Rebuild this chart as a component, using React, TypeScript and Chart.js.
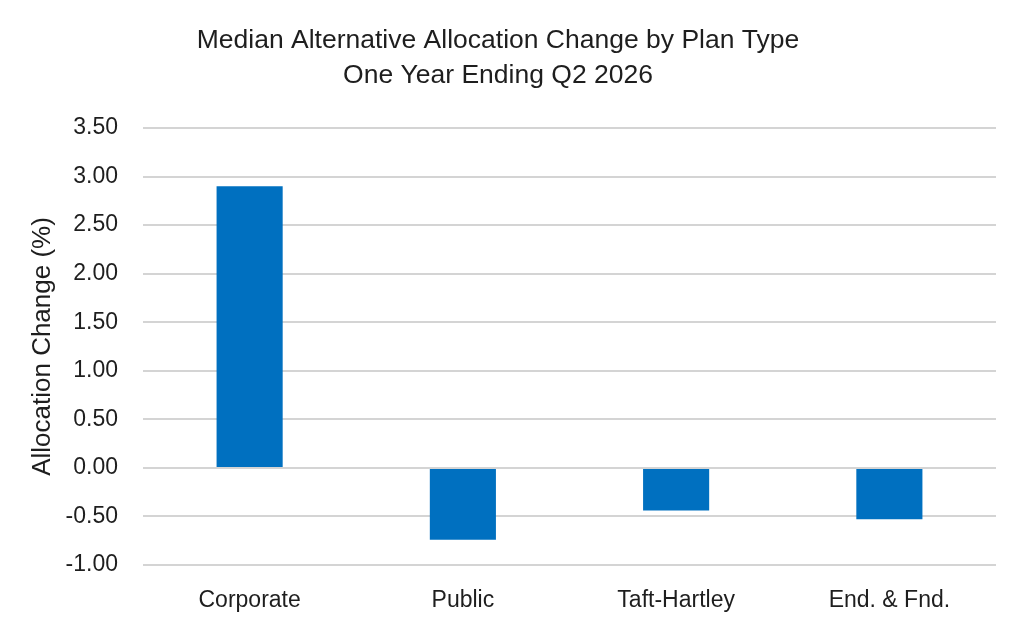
import React, { useEffect, useRef } from "react";
import { Chart, registerables } from "chart.js";

Chart.register(...registerables);

const categories: string[] = ["Corporate", "Public", "Taft-Hartley", "End. & Fnd."];
const allocationChange: number[] = [2.9, -0.74, -0.44, -0.53];
const titleLines: string[] = ["Median Alternative Allocation Change by Plan Type", "One Year Ending Q2 2026"];
const yAxisTitle = "Allocation Change (%)";
const yMin = -1;
const yMax = 3.5;
const yStep = 0.5;

const FONT = "'Liberation Sans', Arial, sans-serif";
const TEXT = "#1e1e1e";

export default function App() {
  const ref = useRef<HTMLCanvasElement | null>(null);

  useEffect(() => {
    document.body.style.margin = "0";
    const canvas = ref.current;
    if (!canvas) return;
    const chart = new Chart(canvas, {
      type: "bar",
      data: {
        labels: categories,
        datasets: [
          {
            data: allocationChange,
            backgroundColor: "#0070C0",
            borderWidth: 0,
            categoryPercentage: 1,
            barPercentage: 0.31,
          },
        ],
      },
      options: {
        responsive: false,
        animation: false,
        devicePixelRatio: 1,
        layout: { padding: { left: 0, right: 28, top: 0, bottom: 0 } },
        plugins: {
          legend: { display: false },
          tooltip: { enabled: false },
          title: {
            display: true,
            text: titleLines,
            color: TEXT,
            font: { family: FONT, size: 26.5, weight: "normal", lineHeight: 1.32 },
            padding: { top: 23, bottom: 35 },
          },
        },
        scales: {
          x: {
            grid: { display: false, drawTicks: false },
            border: { display: false },
            ticks: {
              color: TEXT,
              font: { family: FONT, size: 23 },
              padding: 22,
              maxRotation: 0,
            },
            afterFit: (scale: any) => {
              scale.height = 74;
            },
          },
          y: {
            min: yMin,
            max: yMax,
            border: { display: false },
            grid: { color: "#d4d4d4", lineWidth: 2, drawTicks: false },
            ticks: {
              stepSize: yStep,
              color: TEXT,
              font: { family: FONT, size: 23 },
              padding: 25,
              callback: (v: any) => Number(v).toFixed(2),
            },
            title: {
              display: true,
              text: yAxisTitle,
              color: TEXT,
              font: { family: FONT, size: 26 },
              padding: { top: 27, bottom: 0 },
            },
            afterFit: (scale: any) => {
              scale.width = 143;
            },
          },
        },
      },
    });
    return () => chart.destroy();
  }, []);

  return (
    <div style={{ width: 1024, height: 639, background: "#ffffff" }}>
      <canvas ref={ref} width={1024} height={639} />
    </div>
  );
}
